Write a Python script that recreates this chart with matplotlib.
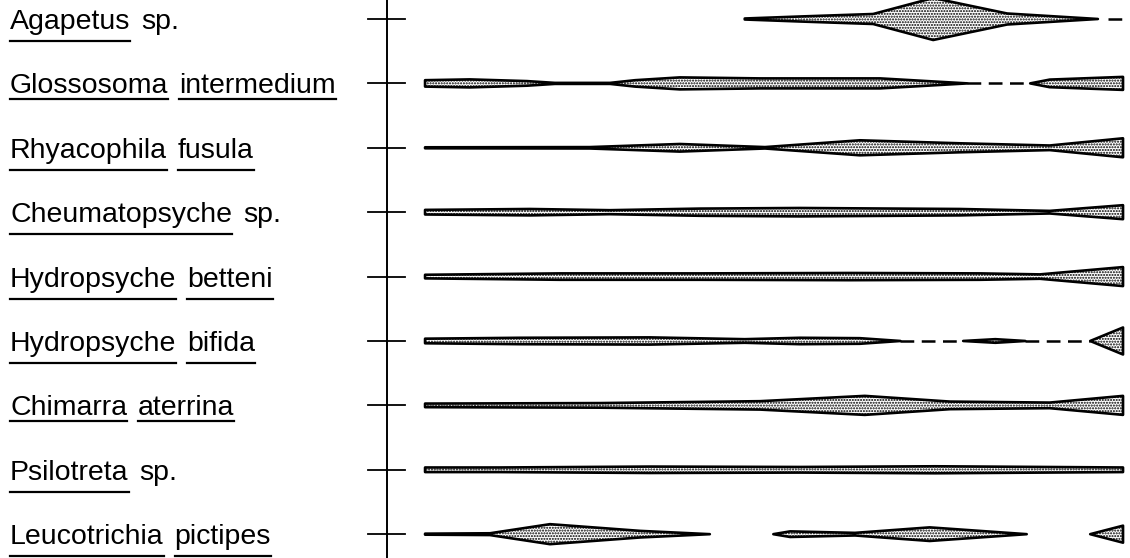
import matplotlib
matplotlib.use("Agg")
import matplotlib.pyplot as plt
from matplotlib.lines import Line2D

# taxa, top to bottom; each word flagged for underlining
labels = [
    [("Agapetus", True), ("sp.", False)],
    [("Glossosoma", True), ("intermedium", True)],
    [("Rhyacophila", True), ("fusula", True)],
    [("Cheumatopsyche", True), ("sp.", False)],
    [("Hydropsyche", True), ("betteni", True)],
    [("Hydropsyche", True), ("bifida", True)],
    [("Chimarra", True), ("aterrina", True)],
    [("Psilotreta", True), ("sp.", False)],
    [("Leucotrichia", True), ("pictipes", True)],
]

# kite outlines: (stations, half-width abundance) per continuous stretch
agapetus = [([45.8, 53.7, 64.2, 72.8, 83.4, 96.4], [0.5, 2.5, 5, 21, 5.5, 0])]
glossosoma = [([0, 6.4, 14.6, 18.6, 26.5, 30.1, 36.5, 48.0, 65.2, 77.7],
               [3.2, 4, 2.3, 0.5, 0.5, 3.2, 6, 5, 5, 0]),
              ([86.7, 89.5, 100], [0, 3.8, 6.5])]
rhyacophila = [([0, 23.6, 36.5, 48.7, 62.3, 76.6, 89.5, 100],
                [0.5, 0.7, 3.8, 0.7, 7.5, 4.5, 2.3, 9.5])]
cheumatopsyche = [([0, 15.0, 26.5, 39.4, 53.7, 76.6, 89.5, 100],
                   [2.3, 3.2, 2, 3.6, 4.2, 3.2, 1.3, 7])]
h_betteni = [([0, 19.3, 39.4, 60.9, 79.5, 88.1, 100],
              [1.8, 3.2, 3.2, 3.6, 3.2, 2.2, 9.5])]
h_bifida = [([0, 13.6, 32.2, 45.8, 53.7, 62.3, 68.1], [2.3, 3.2, 3.6, 1.8, 3.2, 2.8, 0]),
            ([77.1, 81.7, 86.0], [0, 1.8, 0]),
            ([95.3, 100], [0, 13.5])]
chimarra = [([0, 25.1, 48.0, 63.0, 75.2, 89.5, 100], [1.8, 2.3, 4.2, 9.5, 3.8, 2.8, 9.5])]
psilotreta = [([0, 10.7, 32.2, 53.7, 73.1, 100], [2.3, 2.3, 3.2, 2.8, 3.5, 2.3])]
leucotrichia = [([0, 9.3, 17.9, 30.8, 40.8], [0.5, 0.9, 10, 3.3, 0]),
                ([49.9, 52.3, 61.6, 72.3, 86.2], [0, 2.8, 1.3, 6.8, 0]),
                ([95.3, 100], [0, 8.5])]

kites = [agapetus, glossosoma, rhyacophila, cheumatopsyche, h_betteni,
         h_bifida, chimarra, psilotreta, leucotrichia]

# stretches where the taxon was sampled but absent (dashed)
absent = [[(97.8, 100)], [(77.7, 86.7)], [], [], [],
          [(68.1, 77.1), (86.0, 95.3)], [], [], []]

WIDTH_SCALE = 1 / 64.4
AXIS_X = -5.45

W, H = 1130, 558
fig = plt.figure(figsize=(W / 100, H / 100), dpi=100)
ax = fig.add_axes([0, 0, 1, 1])
ax.set_xlim(-60.9, 101.0)
ax.set_ylim(8.37, -0.295)
ax.axis("off")

ax.axvline(AXIS_X, color="black", lw=1.4)

for row, (segs, gaps) in enumerate(zip(kites, absent)):
    ax.plot([AXIS_X - 2.7, AXIS_X + 2.6], [row, row], color="black", lw=1.3)
    for xs, ws in segs:
        lo = [row - w * WIDTH_SCALE for w in ws]
        hi = [row + w * WIDTH_SCALE for w in ws]
        ax.fill_between(xs, lo, hi, facecolor="white", edgecolor="black",
                        hatch="......", linewidth=1.9)
    for x0, x1 in gaps:
        ax.plot([x0, x1], [row, row], color="black", lw=1.8, dashes=(5.5, 3))

# labels with underlined genus / species names
renderer = fig.canvas.get_renderer()
font = dict(family="Liberation Sans", size=20.5, color="black")
probe = fig.text(0, 0, "a a", **font)
w_gap = probe.get_window_extent(renderer).width
probe.set_text("aa")
space = w_gap - probe.get_window_extent(renderer).width
probe.remove()

for row, words in enumerate(labels):
    _, yc = ax.transData.transform((0, row))
    base = yc - 10
    text = "".join(w for w, _ in words)
    drop = 22 if any(c in "gjpqy" for c in text) else 16
    x = 10
    for word, underline in words:
        t = fig.text(x / W, base / H, word, va="baseline", **font)
        wd = t.get_window_extent(renderer).width
        if underline:
            fig.add_artist(Line2D([x / W, (x + wd) / W],
                                  [(yc - drop) / H] * 2,
                                  transform=fig.transFigure,
                                  color="black", lw=1.6))
        x += wd + space * 1.4

fig.savefig("out.png", dpi=100)
